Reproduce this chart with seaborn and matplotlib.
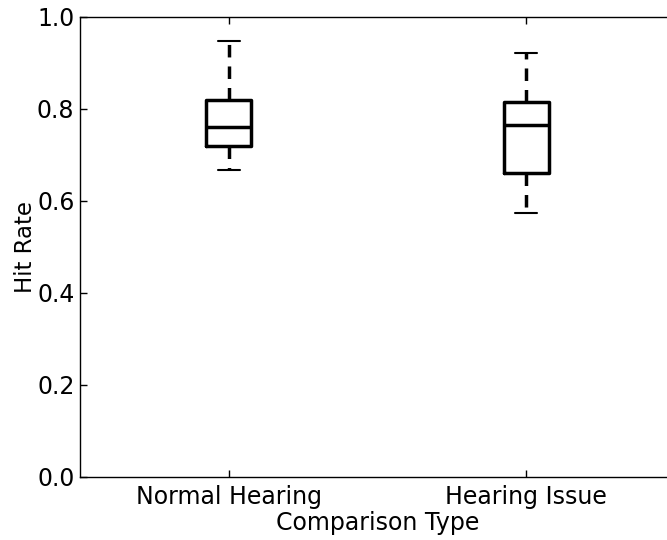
import matplotlib
matplotlib.use("Agg")
import matplotlib.pyplot as plt
import seaborn as sns
import pandas as pd

categories = ["Normal Hearing", "Hearing Issue"]
# five-number summaries (min, q1, median, q3, max)
normal_hearing = [0.667, 0.720, 0.761, 0.820, 0.947]
hearing_issue = [0.574, 0.661, 0.765, 0.815, 0.922]
yticks = [0.0, 0.2, 0.4, 0.6, 0.8, 1.0]

df = pd.DataFrame({
    "Comparison Type": [categories[0]] * len(normal_hearing) + [categories[1]] * len(hearing_issue),
    "Hit Rate": normal_hearing + hearing_issue,
})

sns.set_style("ticks")
plt.rcParams["font.family"] = ["DejaVu Sans"]

W, H = 667, 540
fig = plt.figure(figsize=(W / 100, H / 100), dpi=100)
ax = fig.add_axes([80 / W, (H - 477) / H, (675 - 80) / W, (477 - 17) / H])

sns.boxplot(
    data=df, x="Comparison Type", y="Hit Rate", order=categories,
    ax=ax, width=0.15, whis=(0, 100), fill=False, color="black",
    linewidth=2.5, showfliers=False,
    whiskerprops=dict(linestyle=(0, (3.6, 2.6)), linewidth=2.5),
    capprops=dict(linewidth=1.5),
    medianprops=dict(linewidth=2.5, color="black"),
)

ax.set_xlim(-0.5, 1.5)
ax.set_ylim(0, 1.0)
ax.set_yticks(yticks)
ax.set_yticklabels([f"{v:.1f}" for v in yticks])
ax.set_xlabel("Comparison Type", fontsize=17, labelpad=1, color="black")
ax.set_ylabel("Hit Rate", fontsize=16.5, color="black")
ax.yaxis.set_label_coords(-0.072, 0.5)
ax.tick_params(axis="both", direction="in", length=5, width=1, labelsize=17,
               top=True, right=True, colors="black")
ax.tick_params(axis="x", pad=6)
ax.tick_params(axis="y", pad=4)
for s in ax.spines.values():
    s.set_visible(True)
    s.set_linewidth(1)
    s.set_color("black")

fig.savefig("out.png", dpi=100)
